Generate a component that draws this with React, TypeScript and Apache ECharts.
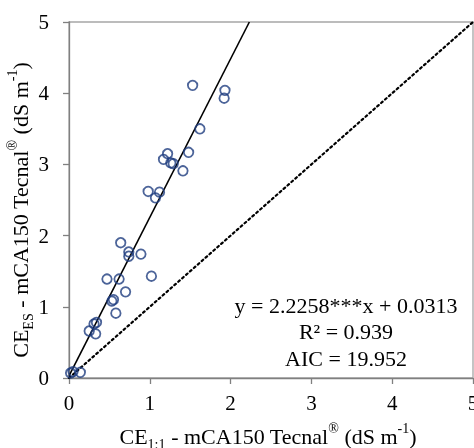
import React, { useEffect, useRef } from "react";
import * as echarts from "echarts";

const xValues = [0.02, 0.05, 0.14, 0.25, 0.31, 0.34, 0.33, 0.47, 0.53, 0.55, 0.58, 0.62, 0.64, 0.70, 0.74, 0.74, 0.89, 1.02, 0.98, 1.12, 1.07, 1.17, 1.22, 1.26, 1.29, 1.41, 1.48, 1.53, 1.62, 1.93, 1.92];
const yValues = [0.07, 0.09, 0.08, 0.66, 0.76, 0.78, 0.62, 1.39, 1.08, 1.10, 0.91, 1.39, 1.90, 1.21, 1.77, 1.71, 1.74, 1.43, 2.62, 2.61, 2.53, 3.07, 3.15, 3.02, 3.01, 2.91, 3.17, 4.11, 3.50, 4.04, 3.93];
const slope = 2.2258;
const intercept = 0.0313;
const r2 = "0.939";
const aic = "19.952";
const axisMin = 0;
const axisMax = 5;
const tickInterval = 1;

const FONT = "Liberation Serif";

export default function App() {
  const ref = useRef<HTMLDivElement>(null);
  useEffect(() => {
    if (!ref.current) return;
    const chart = echarts.init(ref.current, null, { renderer: "svg" });
    const points = xValues.map((x, i) => [x, yValues[i]]);
    const fitEndX = (axisMax - intercept) / slope;
    const fitLine = [
      [axisMin, intercept + slope * axisMin],
      [fitEndX, intercept + slope * fitEndX],
    ];
    const oneToOne = [
      [axisMin, axisMin],
      [axisMax, axisMax],
    ];
    const rich = {
      b: { fontSize: 22, fontFamily: FONT, color: "#000", lineHeight: 30 },
      sub: { fontSize: 14, fontFamily: FONT, color: "#000", lineHeight: 14, verticalAlign: "bottom" },
      sup: { fontSize: 14, fontFamily: FONT, color: "#000", lineHeight: 14, verticalAlign: "top" },
    };
    const axisCommon = {
      type: "value",
      min: axisMin,
      max: axisMax,
      interval: tickInterval,
      nameLocation: "middle",
      nameMoveOverlap: false,
      axisLine: { show: true, lineStyle: { color: "#808080", width: 1.3 } },
      axisTick: { show: true, inside: false, length: 6, lineStyle: { color: "#808080", width: 1.3 } },
      splitLine: { show: false },
    };
    chart.setOption({
      animation: false,
      grid: {
        left: 69,
        right: 1,
        top: 22,
        bottom: 70,
        containLabel: false,
        outerBoundsMode: "none",
        show: true,
        borderColor: "#a6a6a6",
        borderWidth: 1.3,
        backgroundColor: "transparent",
      },
      xAxis: {
        ...axisCommon,
        name: "{b|CE}{sub|1:1}{b| - mCA150 Tecnal}{sup|®}{b| (dS m}{sup|-1}{b|)}",
        nameGap: 43,
        nameTextStyle: { rich, fontFamily: FONT, fontSize: 22, padding: [0, 6, 0, 0] },
        axisLabel: { fontFamily: FONT, fontSize: 21, color: "#000", margin: 14 },
      },
      yAxis: {
        ...axisCommon,
        name: "{b|CE}{sub|ES}{b| - mCA150 Tecnal}{sup|®}{b| (dS m}{sup|-1}{b|)}",
        nameGap: 34,
        nameRotate: 90,
        nameTextStyle: { rich, fontFamily: FONT, fontSize: 22, padding: [0, 20, 0, 0] },
        axisLabel: { fontFamily: FONT, fontSize: 21, color: "#000", margin: 20 },
      },
      series: [
        {
          type: "line",
          data: oneToOne,
          symbol: "none",
          lineStyle: { color: "#000", width: 2.2, type: [2, 3.2], cap: "round" },
          z: 1,
        },
        {
          type: "line",
          data: fitLine,
          symbol: "none",
          lineStyle: { color: "#000", width: 1.6 },
          z: 2,
        },
        {
          type: "scatter",
          data: points,
          symbol: "circle",
          symbolSize: 9.5,
          itemStyle: { color: "rgba(0,0,0,0)", borderColor: "#1f3d80", borderWidth: 1.8 },
          z: 3,
        },
      ],
      graphic: [
        {
          type: "text",
          x: 346,
          y: 292,
          style: {
            text: `y = ${slope}***x + ${intercept}\nR² = ${r2}\nAIC = ${aic}`,
            x: 0,
            y: 0,
            fontFamily: FONT,
            fontSize: 22,
            fill: "#000",
            align: "center",
            verticalAlign: "top",
            lineHeight: 26.5,
          },
        },
      ],
    });
    return () => chart.dispose();
  }, []);
  return (
    <div
      ref={ref}
      style={{ position: "fixed", left: 0, top: 0, width: 474, height: 448, overflow: "hidden" }}
    />
  );
}
